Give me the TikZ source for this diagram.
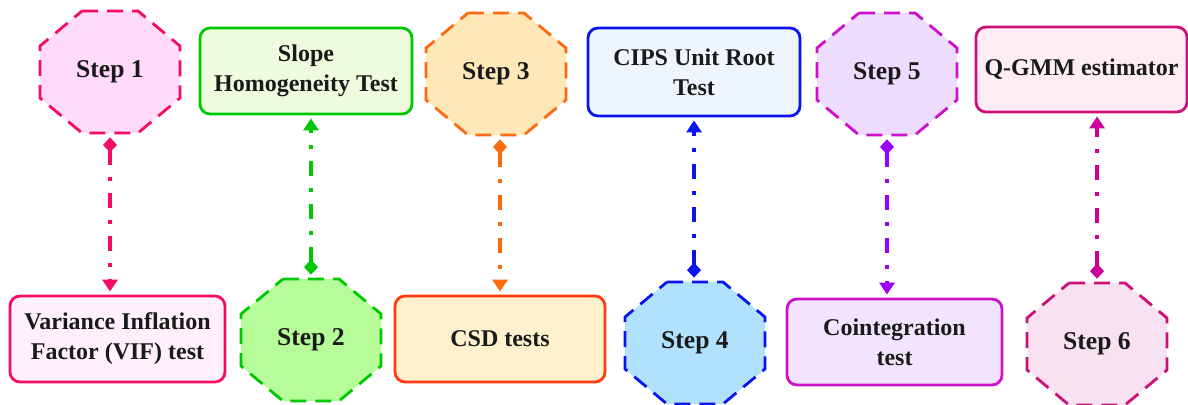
\documentclass[tikz,border=0pt]{standalone}
\usepackage{fontspec}
\setmainfont{Liberation Serif}
\usetikzlibrary{arrows.meta}
\definecolor{cpink}{HTML}{F50A64}
\definecolor{fpinkA}{HTML}{FFDAFA}
\definecolor{fpinkB}{HTML}{FFF0FC}
\definecolor{cgreen}{HTML}{00C800}
\definecolor{fgreenA}{HTML}{EEFBDE}
\definecolor{fgreenB}{HTML}{B6FD99}
\definecolor{corange}{HTML}{FF6A10}
\definecolor{cred}{HTML}{FF3C10}
\definecolor{forangeA}{HTML}{FFE8B8}
\definecolor{forangeB}{HTML}{FFF0CE}
\definecolor{cblue}{HTML}{0A14F0}
\definecolor{fblueA}{HTML}{EEF5FF}
\definecolor{fblueB}{HTML}{B0E2FF}
\definecolor{cmag}{HTML}{CC10CC}
\definecolor{cviolet}{HTML}{9A00FF}
\definecolor{fvioA}{HTML}{EEDCFF}
\definecolor{fvioB}{HTML}{F2E4FF}
\definecolor{crose}{HTML}{CC1077}
\definecolor{croseA}{HTML}{CC0099}
\definecolor{froseA}{HTML}{FFEDF5}
\definecolor{froseB}{HTML}{F9E2F0}
\definecolor{txt}{HTML}{1A1A1A}
\tikzset{
  x=0.5pt, y=-0.5pt,
  lbl/.style={font=\fontsize{12}{15}\selectfont\bfseries, text=txt, align=center},
  stepnode/.style={lbl, font=\fontsize{12.8}{15}\selectfont\bfseries, draw=none, inner sep=0pt, minimum width=70pt, minimum height=61pt},
  octline/.style={line width=1.4pt, dash pattern=on 8pt off 4.5pt},
  tbox/.style={lbl, rectangle, rounded corners=5pt, line width=1.4pt, inner sep=2pt},
  conn/.style={line width=1.7pt, dash pattern=on 7.5pt off 6pt on 2pt off 6pt,
    {Diamond[length=7.5pt,width=7pt]}-{Triangle[length=6pt,width=7.5pt]},
    shorten <=2pt, shorten >=1.5pt}
}
\newcommand\stepoct[5]{%
  \draw[octline, draw=#4, fill=#3, shift={(#2)}] (-28,-61) -- (28,-61) -- (70,-26) -- (70,26) -- (28,61) -- (-28,61) -- (-70,26) -- (-70,-26) -- cycle;
  \node[stepnode] (#1) at (#2) {#5};}
\begin{document}
\begin{tikzpicture}
\useasboundingbox (0,0) rectangle (1188,405);
% octagons
\stepoct{s1}{110,72}{fpinkA}{cpink}{Step 1}
\stepoct{s3}{496,74}{forangeA}{corange}{Step 3}
\stepoct{s5}{887,74}{fvioA}{cmag}{Step 5}
\stepoct{s2}{311,340}{fgreenB}{cgreen}{Step 2}
\stepoct{s4}{695,343}{fblueB}{cblue}{Step 4}
\stepoct{s6}{1097,344}{froseB}{crose}{Step 6}
% boxes
\node[tbox, draw=cgreen, fill=fgreenA, minimum width=106pt, minimum height=43pt] (slope) at (306,71) {Slope\\Homogeneity Test};
\node[tbox, draw=cblue, fill=fblueA, minimum width=106pt, minimum height=44pt] (cips) at (694,72) {CIPS Unit Root\\Test};
\node[tbox, draw=crose, fill=froseA, minimum width=105.5pt, minimum height=42.5pt] (qgmm) at (1081.5,69.5) {Q-GMM estimator};
\node[tbox, draw=cpink, fill=fpinkB, minimum width=107.5pt, minimum height=43pt] (vif) at (117.5,339) {Variance Inflation\\Factor (VIF) test};
\node[tbox, draw=cred, fill=forangeB, minimum width=105pt, minimum height=43pt] (csd) at (500,339) {CSD tests};
\node[tbox, draw=cmag, fill=fvioB, minimum width=107.5pt, minimum height=43pt] (coint) at (894.5,342) {Cointegration\\test};
% connectors
\draw[conn, cpink] (s1.south) -- (s1.south |- vif.north);
\draw[conn, cgreen] (s2.north) -- (s2.north |- slope.south);
\draw[conn, corange] (s3.south -| csd.north) -- (csd.north);
\draw[conn, cblue] (s4.north -| cips.south) -- (cips.south);
\draw[conn, cviolet] (s5.south) -- (s5.south |- coint.north);
\draw[conn, croseA] (s6.north) -- (s6.north |- qgmm.south);
\end{tikzpicture}
\end{document}
